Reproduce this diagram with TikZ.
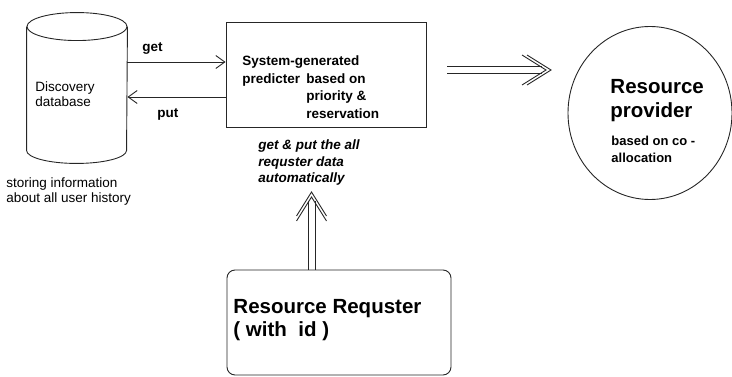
\documentclass[tikz,border=0pt]{standalone}
\usepackage{fontspec}
\setmainfont{Liberation Sans}
\usepackage{tikz}
\usetikzlibrary{arrows.meta,calc,positioning,shapes.geometric}

\begin{document}
\begin{tikzpicture}[x=1pt,y=-1pt,
    line width=0.9pt, draw=black!85,
    txt/.style={font=\fontsize{13.5}{15}\selectfont, align=left, inner sep=0pt},
    btxt/.style={font=\fontsize{13.5}{17.5}\selectfont\bfseries, align=left, inner sep=0pt},
    itxt/.style={font=\fontsize{13.5}{16.5}\selectfont\bfseries\itshape, align=left, inner sep=0pt},
    bigtxt/.style={font=\fontsize{20.5}{24}\selectfont\bfseries, align=left, inner sep=0pt},
    thinarrow/.style={-{Straight Barb[length=9pt,width=13pt]}},
    ]
\useasboundingbox (0,0) rectangle (732,377);

% database cylinder
\node[minimum width=100, minimum height=123, inner sep=0pt] (db) at (77,88.5) {};
\draw (db.north west) -- (db.south west)
    arc[start angle=180, end angle=0, x radius=50, y radius=13] -- (db.north east);
\draw (db.north) ellipse[x radius=50, y radius=14];
\node[txt, anchor=base west] (dbtxt) at (35,107) {Discovery\\database};
\node[txt, anchor=base west] (dbnote) at (6,203) {storing information\\about all user history};

% predicter
\node[draw, minimum width=200, minimum height=105, inner sep=0pt] (sysbox) at (326,74.5) {};
\node[btxt, anchor=base west] (predA) at (242,83.5) {System-generated\\predicter};
\node[btxt, anchor=base west] (predB) at (306,118.5) {based on\\priority \&\\reservation};
\node[itxt, anchor=base west] (auto) at (258,183) {get \& put the all\\requster data\\automatically};

\coordinate (getend) at ($(sysbox.west)+(0,-12.5)$);
\coordinate (putend) at ($(db.east)+(0,8.5)$);
\draw[thinarrow] (db.east |- getend) -- (getend);
\draw[thinarrow] (sysbox.west |- putend) -- (putend);
\node[btxt, anchor=base west] (getlbl) at (142,52) {get};
\node[btxt, anchor=base west] (putlbl) at (157,118) {put};

% provider
\node[draw, ellipse, minimum width=164, minimum height=173, inner sep=0pt] (prov) at (650,113) {};
\node[bigtxt, anchor=base west] (provtxt) at (610,118) {Resource\\provider};
\node[btxt, anchor=base west, font=\fontsize{13}{17}\selectfont\bfseries] (provnote) at (611,163) {based on co -\\allocation};
\coordinate (provstart) at (447,70);
\coordinate (provend) at (551,70);
\foreach \s in {-3.5,3.5}
    \draw ($(provstart)+(0,\s)$) -- ($(provend)+(-9,\s)$);
\foreach \d in {0,5}
    \draw ($(provend)+(-24-\d,-15)$) -- ($(provend)+(-\d,0)$) -- ($(provend)+(-24-\d,15)$);

% requester
\node[draw, rounded corners=8pt, minimum width=224, minimum height=105, inner sep=0pt] (req) at (339,322.5) {};
\node[bigtxt, anchor=base west] (reqtxt) at (233,337) {Resource Requster\\( with\ \ id )};
\coordinate (reqend) at (311.5,192);
\foreach \s in {-3.5,3.5}
    \draw ($(reqend |- req.north)+(\s,0)$) -- ($(reqend)+(\s,9)$);
\foreach \d in {0,5}
    \draw ($(reqend)+(-15,24+\d)$) -- ($(reqend)+(0,\d)$) -- ($(reqend)+(15,24+\d)$);

\end{tikzpicture}
\end{document}
